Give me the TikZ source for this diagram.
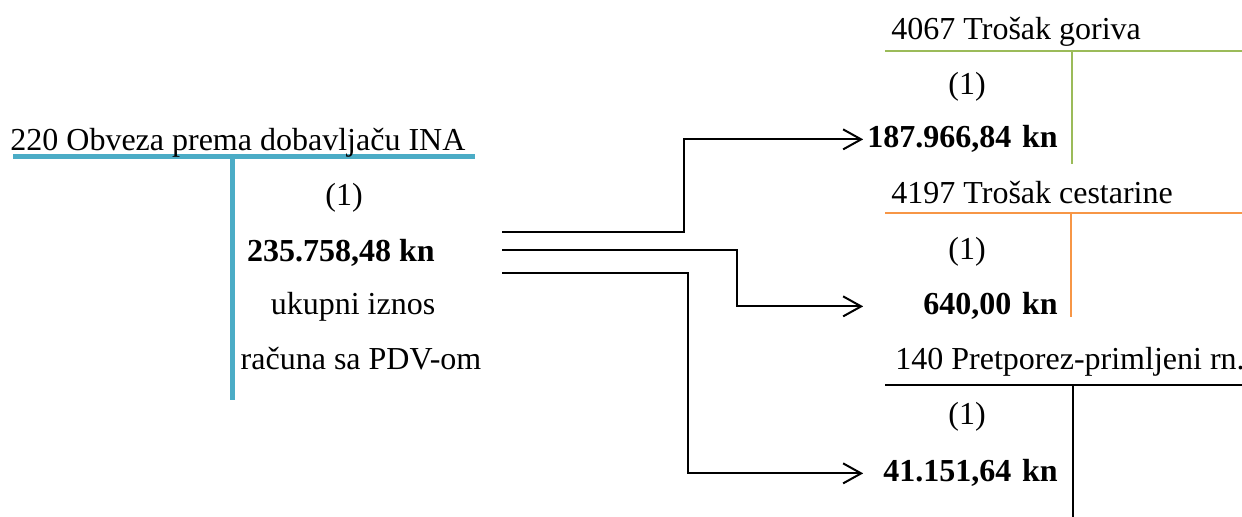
\documentclass[tikz,border=0pt]{standalone}
\usepackage{fontspec}
\setmainfont{Liberation Serif}
\usepackage{xcolor}
\usetikzlibrary{arrows.meta,positioning,calc}

\definecolor{tblue}{HTML}{4BACC6}
\definecolor{tgreen}{HTML}{9BBB59}
\definecolor{torange}{HTML}{F79646}

\begin{document}
\begin{tikzpicture}[
    x=0.5pt, y=-0.5pt,
    every node/.style={font=\fontsize{16}{19}\selectfont, inner sep=0pt},
    head/.style={anchor=base west},
    amount/.style={font=\fontsize{16}{19}\selectfont\bfseries, text width=97pt, align=right, anchor=base east},
    tline/.style={line width=1pt},
    arrow/.style={-{Straight Barb[length=9pt,width=10pt]}, line width=1pt}
]
\useasboundingbox (0,0) rectangle (1242,517);

% konto 220
\draw[tblue, line width=2.5pt] (13,157) -- (475,157);
\draw[tblue, line width=2.5pt] (232,157) -- (232,400);
\node[head] (ina) at (10,151) {220 Obveza prema dobavljaču INA};
\node (inaone) at (344,198) {(1)};
\node[anchor=base, font=\fontsize{16}{19}\selectfont\bfseries] (total) at (341,262) {235.758,48 kn};
\node[anchor=base] (desca) at (353,315) {ukupni iznos};
\node[anchor=base] (descb) at (361,370) {računa sa PDV-om};

% konto 4067
\draw[tgreen, tline] (885,51) -- (1242,51);
\draw[tgreen, tline] (1072,51) -- (1072,164);
\node[head] (gorivo) at (891,40) {4067 Trošak goriva};
\node (gorivoone) at (967,87) {(1)};
\node[amount] (gorivoamt) at (1058,148) {187.966,84 kn};

% konto 4197
\draw[torange, tline] (885,213) -- (1242,213);
\draw[torange, tline] (1071,213) -- (1071,317);
\node[head] (cesta) at (891,204) {4197 Trošak cestarine};
\node (cestaone) at (967,252) {(1)};
\node[amount] (cestaamt) at (1058,315) {640,00 kn};

% konto 140
\draw[tline, line width=1.2pt] (885,385) -- (1242,385);
\draw[tline, line width=1.2pt] (1073,385) -- (1073,517);
\node[head] (pdv) at (895,370) {140 Pretporez-primljeni rn.};
\node (pdvone) at (967,417) {(1)};
\node[amount] (pdvamt) at (1058,482) {41.151,64 kn};

% raspored
\coordinate (sa) at (502,232);
\coordinate (sb) at (502,250);
\coordinate (sc) at (502,273);
\draw[arrow] (sa) -- ++(182,0) |- (gorivoamt.west);
\draw[arrow] (sb) -- ++(235,0) |- (cestaamt.west);
\draw[arrow] (sc) -- ++(186,0) |- (pdvamt.west);

\end{tikzpicture}
\end{document}
